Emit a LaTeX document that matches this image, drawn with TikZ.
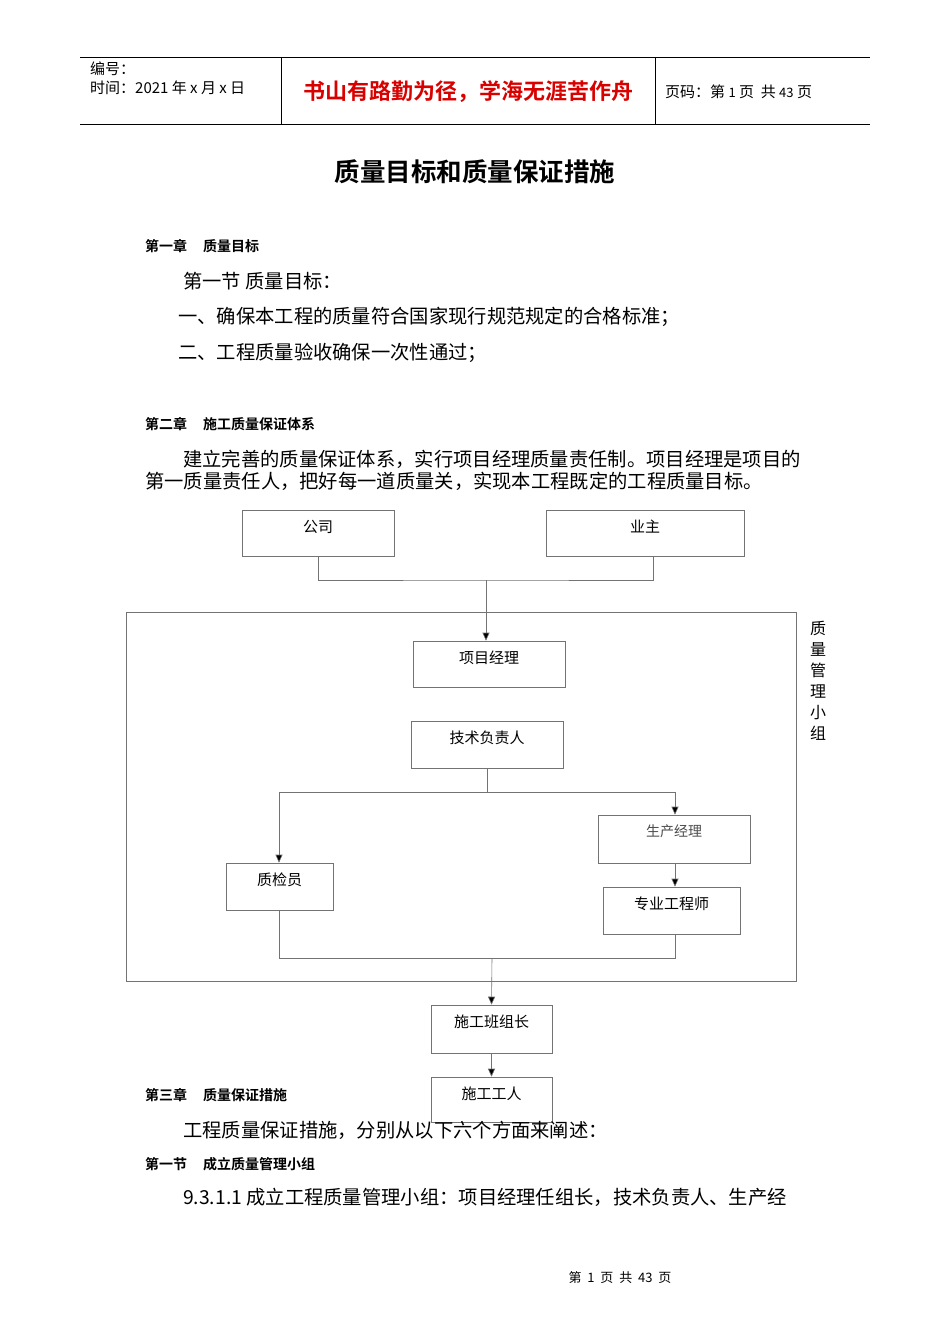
\documentclass[tikz,border=0pt]{standalone}
\usepackage{fontspec}
\setmainfont{Liberation Sans}
\newfontfamily\cjk{Noto Sans CJK SC}
\newfontfamily\cjkb{Noto Sans CJK SC Bold}
\usetikzlibrary{arrows.meta}
\begin{document}
\begin{tikzpicture}[x=1pt,y=-1pt,
  bx/.style={draw=black!55,line width=0.6pt},
  ln/.style={draw=black!55,line width=0.6pt},
  ar/.style={ln,-{Triangle[length=8pt,width=7pt,fill=black]}},
  t/.style={anchor=west,inner sep=0pt,font=\cjk\fontsize{19.3}{19}\selectfont},
  h/.style={anchor=west,inner sep=0pt,font=\cjkb\fontsize{14}{14}\selectfont},
  bt/.style={inner sep=0pt,font=\cjk\fontsize{15}{15}\selectfont}]
\useasboundingbox (0,0) rectangle (950,1344);
\fill[white] (0,0) rectangle (950,1344);
% header
\draw[line width=0.6pt] (80,57) -- (870,57) (80,124) -- (870,124) (281,57) -- (281,124) (655,57) -- (655,124);
\node[anchor=west,inner sep=0pt,font=\cjk\fontsize{15}{15}\selectfont] (h1) at (90,69) {编号：};
\node[anchor=west,inner sep=0pt,font=\cjk\fontsize{15}{15}\selectfont] (h2) at (90,88) {时间：2021 年 x 月 x 日};
\node[inner sep=0pt,text=red!85!black,font=\cjkb\fontsize{22}{22}\selectfont] (h3) at (468,92) {书山有路勤为径，学海无涯苦作舟};
\node[anchor=west,inner sep=0pt,font=\cjk\fontsize{15}{15}\selectfont] (h4) at (665,92) {页码：第 {\fontsize{13}{13}\selectfont 1} 页 \ 共 {\fontsize{13}{13}\selectfont 43} 页};
\node[inner sep=0pt,font=\cjkb\fontsize{25.5}{25}\selectfont] (title) at (475,172) {质量目标和质量保证措施};
% text
\node[h] (c1) at (145,246) {第一章\hspace{16pt}质量目标};
\node[t] (l1) at (183,281) {第一节\ 质量目标：};
\node[t] (l2) at (178,317) {一、确保本工程的质量符合国家现行规范规定的合格标准；};
\node[t] (l3) at (178,353) {二、工程质量验收确保一次性通过；};
\node[h] (c2) at (145,424) {第二章\hspace{16pt}施工质量保证体系};
\node[t] (l4) at (183,459) {建立完善的质量保证体系，实行项目经理质量责任制。项目经理是项目的};
\node[t] (l5) at (145,481) {第一质量责任人，把好每一道质量关，实现本工程既定的工程质量目标。};
% chart
\draw[bx] (126,612) rectangle (796,981);
\node[bx,minimum width=152,minimum height=46] (gs) at (318,533) {};
\node[bt] at (318,527) {公司};
\node[bx,minimum width=198,minimum height=46] (yz) at (645,533) {};
\node[bt] at (645,527) {业主};
\node[bx,minimum width=152,minimum height=46] (xm) at (489,664) {};
\node[bt] at (489,658) {项目经理};
\node[bx,minimum width=152,minimum height=47] (js) at (487,744.5) {};
\node[bt] at (487,738) {技术负责人};
\node[bx,minimum width=152,minimum height=48] (sc) at (674,839) {};
\node[bt,text=black!70,font=\cjk\fontsize{14}{14}\selectfont] at (674,831) {生产经理};
\node[bx,minimum width=137,minimum height=47] (zy) at (671.5,910.5) {};
\node[bt] at (671.5,904) {专业工程师};
\node[bx,minimum width=107,minimum height=47] (zj) at (279.5,886.5) {};
\node[bt] at (279.5,880) {质检员};
\node[bx,minimum width=121,minimum height=48] (bz) at (491.5,1029) {};
\node[bt] at (491.5,1022) {施工班组长};
\node[bx,minimum width=121,minimum height=45] (gr) at (491.5,1099.5) {};
\node[bt] at (491.5,1094) {施工工人};
\coordinate (j1) at (486,580);
\coordinate (yzs) at (653,556);
\draw[ln] (gs.south) |- (j1) -| (yzs);
\draw[ar] (j1) -- (j1 |- xm.north);
\coordinate (j2) at (487,792);
\draw[ln] (js.south) -- (j2);
\coordinate (jl) at (279,792);
\coordinate (jr) at (675,792);
\draw[ln] (jl) -- (jr);
\draw[ar] (jl) -- (jl |- zj.north);
\draw[ar] (jr) -- (jr |- sc.north);
\draw[ar] (jr |- sc.south) -- (jr |- zy.north);
\coordinate (j3) at (492,958);
\draw[ln] (zj.south) |- (j3) -| (jr |- zy.south);
\draw[ar] (j3) -- (bz.north);
\draw[ar] (bz.south) -- (gr.north);
\node[inner sep=0pt,align=center,font=\cjk\fontsize{16}{21}\selectfont] (qm) at (818,681) {质\\量\\管\\理\\小\\组};
% chapter 3
\node[h] (c3) at (145,1095) {第三章\hspace{16pt}质量保证措施};
\node[t] (l6) at (183,1130) {工程质量保证措施，分别从以下六个方面来阐述：};
\node[h] (c4) at (145,1164) {第一节\hspace{16pt}成立质量管理小组};
\node[t] (l7) at (183,1197) {9.3.1.1 成立工程质量管理小组：项目经理任组长，技术负责人、生产经};
\node[inner sep=0pt,font=\cjk\fontsize{13}{13}\selectfont] (ft) at (620,1278) {第 \ 1 \ 页 \ 共 \ 43 \ 页};
\end{tikzpicture}
\end{document}
